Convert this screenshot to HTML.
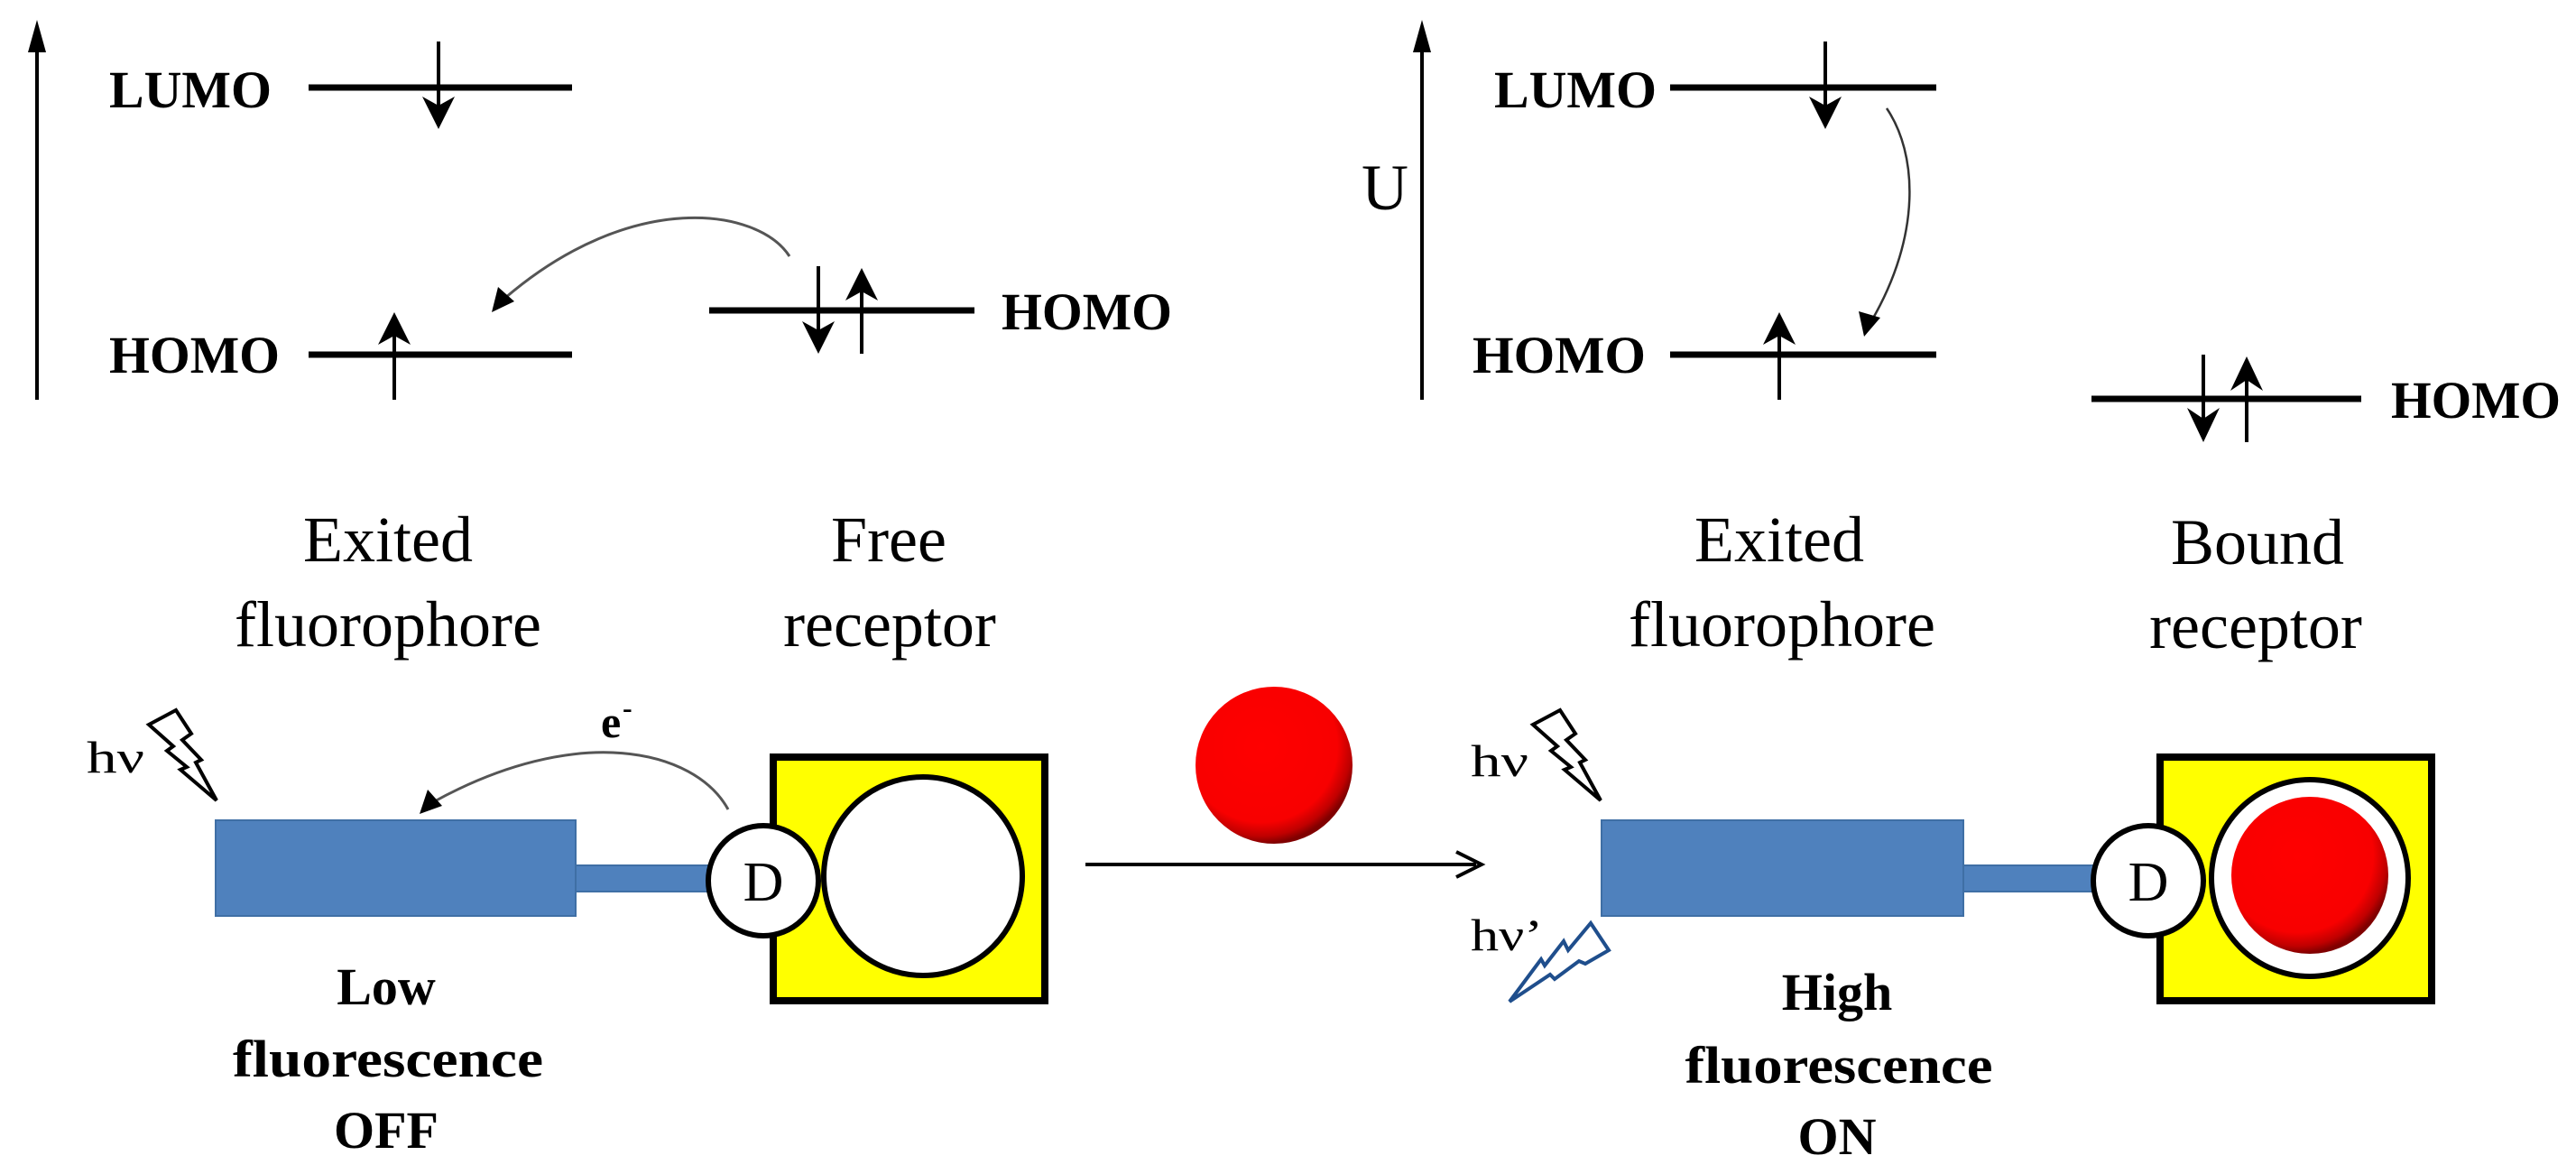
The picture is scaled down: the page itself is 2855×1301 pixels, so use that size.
<!DOCTYPE html>
<html><head><meta charset="utf-8"><style>
html,body{margin:0;padding:0;background:#fff;}
svg{display:block;}
text{font-family:"Liberation Serif",serif;}
</style></head><body>
<svg width="2855" height="1301" viewBox="0 0 2855 1301" xmlns="http://www.w3.org/2000/svg">
<defs>
<radialGradient id="rb" cx="0.42" cy="0.38" r="0.62">
<stop offset="0" stop-color="#ff0000"/><stop offset="0.78" stop-color="#f80000"/><stop offset="0.92" stop-color="#c00000"/><stop offset="1" stop-color="#800000"/>
</radialGradient>
</defs>

<!-- LEFT energy diagram -->
<line x1="41" y1="443" x2="41" y2="50" stroke="#000" stroke-width="4"/>
<polygon points="41,22 31,58 51,58" fill="#000"/>
<text x="121" y="119" font-size="58" font-weight="bold" textLength="180" lengthAdjust="spacingAndGlyphs">LUMO</text>
<line x1="342" y1="97" x2="634" y2="97" stroke="#000" stroke-width="7"/>
<line x1="486" y1="46" x2="486" y2="125" stroke="#000" stroke-width="4"/>
<polygon points="486,143 468,107 486,117 504,107" fill="#000"/>
<text x="121" y="413" font-size="58" font-weight="bold" textLength="189" lengthAdjust="spacingAndGlyphs">HOMO</text>
<line x1="342" y1="393" x2="634" y2="393" stroke="#000" stroke-width="7"/>
<line x1="437" y1="362" x2="437" y2="443" stroke="#000" stroke-width="4"/>
<polygon points="437,346 419,382 437,372 455,382" fill="#000"/>
<line x1="786" y1="344" x2="1080" y2="344" stroke="#000" stroke-width="7"/>
<line x1="907" y1="295" x2="907" y2="376" stroke="#000" stroke-width="4"/>
<polygon points="907,392 889,356 907,366 925,356" fill="#000"/>
<line x1="955" y1="313" x2="955" y2="392" stroke="#000" stroke-width="4"/>
<polygon points="955,297 937,333 955,323 973,333" fill="#000"/>
<text x="1110" y="365" font-size="58" font-weight="bold" textLength="189" lengthAdjust="spacingAndGlyphs">HOMO</text>
<path d="M875,284 C840,230 700,210 560,330" fill="none" stroke="#555" stroke-width="3"/>
<polygon points="545,346 552,318 570,334" fill="#000"/>
<text x="430" y="622" font-size="72" text-anchor="middle">Exited</text>
<text x="430" y="716" font-size="72" text-anchor="middle">fluorophore</text>
<text x="985" y="622" font-size="72" text-anchor="middle">Free</text>
<text x="986" y="716" font-size="72" text-anchor="middle">receptor</text>

<!-- RIGHT energy diagram -->
<line x1="1576" y1="443" x2="1576" y2="50" stroke="#000" stroke-width="4"/>
<polygon points="1576,22 1566,58 1586,58" fill="#000"/>
<text x="1535" y="232" font-size="72" text-anchor="middle">U</text>
<text x="1656" y="119" font-size="58" font-weight="bold" textLength="180" lengthAdjust="spacingAndGlyphs">LUMO</text>
<line x1="1851" y1="97" x2="2146" y2="97" stroke="#000" stroke-width="7"/>
<line x1="2023" y1="46" x2="2023" y2="125" stroke="#000" stroke-width="4"/>
<polygon points="2023,143 2005,107 2023,117 2041,107" fill="#000"/>
<text x="1632" y="413" font-size="58" font-weight="bold" textLength="192" lengthAdjust="spacingAndGlyphs">HOMO</text>
<line x1="1851" y1="393" x2="2146" y2="393" stroke="#000" stroke-width="7"/>
<line x1="1972" y1="362" x2="1972" y2="443" stroke="#000" stroke-width="4"/>
<polygon points="1972,346 1954,382 1972,372 1990,382" fill="#000"/>
<path d="M2091,120 C2125,170 2130,260 2074,356" fill="none" stroke="#333" stroke-width="2.5"/>
<polygon points="2066,373 2060,345 2084,352" fill="#000"/>
<line x1="2318" y1="442" x2="2617" y2="442" stroke="#000" stroke-width="7"/>
<line x1="2442" y1="393" x2="2442" y2="474" stroke="#000" stroke-width="4"/>
<polygon points="2442,490 2424,452 2442,464 2460,452" fill="#000"/>
<line x1="2490" y1="411" x2="2490" y2="490" stroke="#000" stroke-width="4"/>
<polygon points="2490,395 2472,433 2490,421 2508,433" fill="#000"/>
<text x="2650" y="463" font-size="58" font-weight="bold" textLength="188" lengthAdjust="spacingAndGlyphs">HOMO</text>
<text x="1972" y="622" font-size="72" text-anchor="middle">Exited</text>
<text x="1975" y="716" font-size="72" text-anchor="middle">fluorophore</text>
<text x="2502" y="625" font-size="72" text-anchor="middle">Bound</text>
<text x="2500" y="718" font-size="72" text-anchor="middle">receptor</text>

<!-- LEFT molecule -->
<text x="96" y="856" font-size="50" textLength="64" lengthAdjust="spacingAndGlyphs">hν</text>
<polygon points="165,803 195,787 212,813 202,820 223,842 217,845 240,887 200,853 207,850 185,832 192,827" fill="none" stroke="#000" stroke-width="4" stroke-linejoin="miter"/>
<rect x="239" y="909" width="399" height="106" fill="#4f81bd" stroke="#3f6fa5" stroke-width="2"/>
<rect x="638" y="959" width="150" height="29" fill="#4f81bd" stroke="#3f6fa5" stroke-width="2"/>
<rect x="857" y="839" width="301" height="270" fill="#ffff00" stroke="#000" stroke-width="8"/>
<circle cx="1023" cy="971" r="110" fill="#fff" stroke="#000" stroke-width="6"/>
<circle cx="846" cy="976" r="61" fill="#fff" stroke="#000" stroke-width="6"/>
<text x="846" y="998" font-size="62" text-anchor="middle">D</text>
<path d="M807,897 C770,830 640,800 478,890" fill="none" stroke="#555" stroke-width="3"/>
<polygon points="465,902 474,875 490,893" fill="#000"/>
<text x="666" y="817" font-size="50" font-weight="bold">e</text>
<text x="690" y="795" font-size="32" font-weight="bold">-</text>
<text x="428" y="1113" font-size="58" font-weight="bold" text-anchor="middle">Low</text>
<text x="430" y="1193" font-size="58" font-weight="bold" text-anchor="middle" textLength="344" lengthAdjust="spacingAndGlyphs">fluorescence</text>
<text x="428" y="1272" font-size="58" font-weight="bold" text-anchor="middle">OFF</text>

<!-- reaction arrow + ball -->
<line x1="1203" y1="958" x2="1636" y2="958" stroke="#000" stroke-width="4"/>
<polyline points="1614,944 1642,958 1614,972" fill="none" stroke="#000" stroke-width="4"/>
<circle cx="1412" cy="848" r="87" fill="url(#rb)"/>

<!-- RIGHT molecule -->
<text x="1630" y="860" font-size="50" textLength="64" lengthAdjust="spacingAndGlyphs">hν</text>
<polygon points="1699,803 1729,787 1746,813 1736,820 1757,842 1751,845 1774,887 1734,853 1741,850 1719,832 1726,827" fill="none" stroke="#000" stroke-width="4"/>
<text x="1630" y="1053" font-size="50" textLength="80" lengthAdjust="spacingAndGlyphs">hν’</text>
<polygon points="1673,1110 1708,1063 1712,1070 1733,1043 1738,1053 1763,1023 1783,1053 1757,1068 1750,1065 1723,1085 1718,1080" fill="none" stroke="#1f4e8c" stroke-width="4"/>
<rect x="1775" y="909" width="401" height="106" fill="#4f81bd" stroke="#3f6fa5" stroke-width="2"/>
<rect x="2176" y="959" width="148" height="29" fill="#4f81bd" stroke="#3f6fa5" stroke-width="2"/>
<rect x="2394" y="839" width="301" height="270" fill="#ffff00" stroke="#000" stroke-width="8"/>
<circle cx="2560" cy="973" r="109" fill="#fff" stroke="#000" stroke-width="6"/>
<circle cx="2560" cy="970" r="87" fill="url(#rb)"/>
<circle cx="2381" cy="976" r="61" fill="#fff" stroke="#000" stroke-width="6"/>
<text x="2381" y="998" font-size="62" text-anchor="middle">D</text>
<text x="2036" y="1119" font-size="58" font-weight="bold" text-anchor="middle">High</text>
<text x="2038" y="1200" font-size="58" font-weight="bold" text-anchor="middle" textLength="341" lengthAdjust="spacingAndGlyphs">fluorescence</text>
<text x="2036" y="1279" font-size="58" font-weight="bold" text-anchor="middle">ON</text>
</svg>
</body></html>
